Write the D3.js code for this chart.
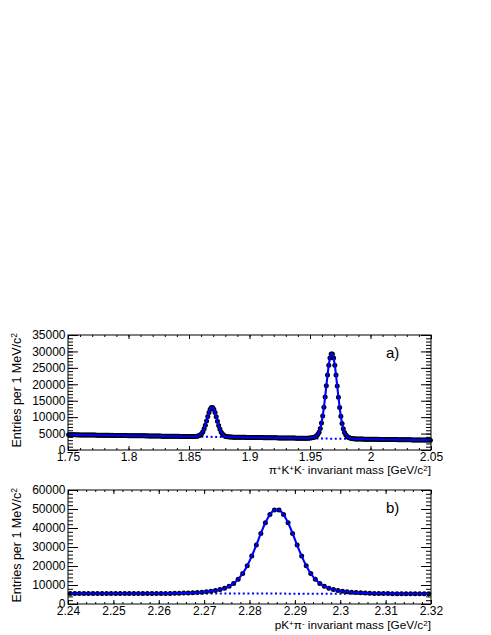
<!DOCTYPE html>
<html>
<head>
<meta charset="utf-8">
<script src="https://cdn.jsdelivr.net/npm/d3@7"></script>
<style>
  body { margin: 0; background: #fff; }
  svg { display: block; font-family: "Liberation Sans", Arial, sans-serif; }
</style>
</head>
<body>
<svg id="chart" width="491" height="635"></svg>
<script>
///////////////////////////////////////////////////////////
// DATA
///////////////////////////////////////////////////////////

// panel a) : pi+ K+ K- , 1 MeV bins from 1.75 to 2.05
var topStart = 1.75, topEnd = 2.05, topBin = 0.001;
var topCounts = [
  4660,4630,4650,4620,4640,4610,4630,4600,4620,4600,
  4590,4600,4580,4590,4570,4560,4570,4550,4560,4540,
  4540,4530,4540,4520,4510,4520,4500,4510,4490,4500,
  4480,4490,4470,4460,4470,4450,4460,4440,4450,4430,
  4430,4420,4420,4410,4400,4410,4390,4380,4390,4370,
  4370,4370,4360,4350,4360,4340,4340,4330,4330,4320,
  4320,4310,4310,4300,4290,4300,4280,4270,4280,4260,
  4260,4260,4250,4240,4250,4230,4230,4220,4220,4210,
  4210,4200,4190,4200,4180,4180,4170,4170,4160,4160,
  4150,4150,4140,4140,4130,4120,4130,4110,4110,4100,
  4100,4090,4090,4100,4120,4140,4190,4260,4400,4650,
  5050,5590,6430,7530,8800,10160,11420,12400,12930,12930,
  12380,11400,10120,8760,7470,6360,5510,4950,4550,4290,
  4140,4050,4000,3960,3940,3920,3900,3900,3890,3890,
  3880,3880,3870,3870,3860,3850,3850,3840,3840,3830,
  3820,3820,3810,3810,3800,3790,3790,3780,3780,3770,
  3770,3760,3760,3750,3740,3740,3730,3730,3720,3720,
  3710,3710,3700,3690,3690,3680,3680,3670,3670,3660,
  3660,3650,3640,3640,3630,3630,3620,3620,3610,3600,
  3600,3600,3590,3580,3580,3570,3570,3580,3600,3620,
  3660,3700,3780,3880,4050,4320,4760,5420,6570,8200,
  10350,13040,16150,19530,22860,25800,28020,29200,29200,28000,
  25780,22820,19480,16090,12970,10270,8100,6470,5300,4640,
  4180,3900,3720,3610,3520,3460,3420,3380,3360,3340,
  3330,3320,3310,3310,3300,3300,3290,3290,3280,3280,
  3270,3270,3260,3250,3250,3240,3240,3230,3230,3220,
  3220,3210,3210,3200,3190,3190,3180,3180,3170,3170,
  3160,3160,3150,3150,3140,3130,3130,3120,3120,3110,
  3110,3100,3090,3090,3080,3080,3070,3070,3060,3050,
  3050,3050,3040,3030,3030,3020,3020,3010,3010,3000
];
var topBgMass = [1.75, 2.05];
var topBgCount = [4650, 3000];
var topXTicks = [1.75, 1.8, 1.85, 1.9, 1.95, 2, 2.05];
var topYTicks = [0, 5000, 10000, 15000, 20000, 25000, 30000, 35000];

// panel b) : p K+ pi- , 1 MeV bins from 2.24 to 2.32
var botStart = 2.24, botEnd = 2.32, botBin = 0.001;
var botCounts = [
  5550,5550,5540,5540,5540,5540,5540,5540,5540,5530,
  5530,5530,5530,5530,5530,5520,5520,5530,5540,5540,
  5550,5570,5590,5630,5670,5740,5820,5940,6080,6250,
  6470,6760,7140,7640,8340,9350,10850,13050,16080,20160,
  25220,31030,37120,42740,47080,49450,49450,47070,42730,37110,
  31010,25200,20130,16050,13020,10820,9310,8290,7590,7090,
  6710,6410,6180,6010,5870,5750,5660,5590,5540,5500,
  5480,5450,5440,5430,5420,5410,5410,5400,5400,5400
];
var botBgMass = [2.24, 2.32];
var botBgCount = [5550, 5400];
var botXTicks = [2.24, 2.25, 2.26, 2.27, 2.28, 2.29, 2.3, 2.31, 2.32];
var botYTicks = [0, 10000, 20000, 30000, 40000, 50000, 60000];

///////////////////////////////////////////////////////////
// DRAWING
///////////////////////////////////////////////////////////
var svg = d3.select("#chart");
svg.append("rect").attr("width", 491).attr("height", 635).attr("fill", "#fff");

// ROOT style labels: 1.80 -> 1.8, 2.00 -> 2
function fmt(d) { return String(+d.toFixed(4)); }

function tickAxis(g, gen, scale, values, size, pad) {
  var ax = gen(scale).tickValues(values).tickSizeInner(-size).tickSizeOuter(0);
  if (pad !== undefined) ax.tickFormat(fmt).tickPadding(pad);
  else ax.tickFormat("");
  g.call(ax);
  g.attr("font-size", 12).attr("font-family", null);
  g.select(".domain").remove();
  g.selectAll("line").attr("stroke", "#000").attr("stroke-width", 1);
  g.selectAll("text").attr("fill", "#000");
}

// title with superscripts, parts = [[text, isSup], ...]
function richText(sel, parts) {
  parts.forEach(function(p) {
    var t = sel.append("tspan").text(p[0]);
    if (p[1]) t.attr("font-size", "0.68em").attr("baseline-shift", "42%");
  });
}

function drawPanel(p) {
  var x = d3.scaleLinear().domain([p.start, p.end]).range([p.left, p.right]);
  var y = d3.scaleLinear().domain([0, p.ymax]).range([p.bottom, p.top]);

  var pts = p.counts.map(function(c, i) {
    return { m: p.start + (i + 0.5) * p.bin, c: c };
  });

  // minor tick positions
  var xMinor = d3.range(0, Math.round((p.end - p.start) / p.xMinorStep) + 1).map(function(i) {
    return p.start + i * p.xMinorStep;
  });
  var yMinor = d3.range(0, p.ymax / p.yMinorStep + 1).map(function(i) { return i * p.yMinorStep; });

  var g = svg.append("g");

  // axes: minor first, major with labels on left/bottom
  tickAxis(g.append("g").attr("transform", "translate(0," + p.bottom + ")"), d3.axisBottom, x, xMinor, 2);
  tickAxis(g.append("g").attr("transform", "translate(0," + p.bottom + ")"), d3.axisBottom, x, p.xTicks, 4, 2.5);
  tickAxis(g.append("g").attr("transform", "translate(0," + p.top + ")"), d3.axisTop, x, xMinor, 2);
  tickAxis(g.append("g").attr("transform", "translate(0," + p.top + ")"), d3.axisTop, x, p.xTicks, 4);
  tickAxis(g.append("g").attr("transform", "translate(" + p.left + ",0)"), d3.axisLeft, y, yMinor, 5);
  tickAxis(g.append("g").attr("transform", "translate(" + p.left + ",0)"), d3.axisLeft, y, p.yTicks, 10, 2.5);
  tickAxis(g.append("g").attr("transform", "translate(" + p.right + ",0)"), d3.axisRight, y, yMinor, 5);
  tickAxis(g.append("g").attr("transform", "translate(" + p.right + ",0)"), d3.axisRight, y, p.yTicks, 10);

  // background component (dotted)
  g.append("path")
    .datum(p.bgMass.map(function(m, i) { return [m, p.bgCount[i]]; }))
    .attr("fill", "none")
    .attr("stroke", "#0000ff")
    .attr("stroke-width", 2)
    .attr("stroke-dasharray", "2,2.6")
    .attr("d", d3.line().x(function(d) { return x(d[0]); }).y(function(d) { return y(d[1]); }));

  // data points
  g.selectAll("circle.pt")
    .data(pts)
    .enter().append("circle")
    .attr("class", "pt")
    .attr("cx", function(d) { return x(d.m); })
    .attr("cy", function(d) { return y(d.c); })
    .attr("r", p.r)
    .attr("fill", "#000");

  // total fit
  g.append("path")
    .datum(pts)
    .attr("fill", "none")
    .attr("stroke", "#0000ff")
    .attr("stroke-width", 2.1)
    .attr("d", d3.line().curve(d3.curveCatmullRom)
      .x(function(d) { return x(d.m); })
      .y(function(d) { return y(d.c); }));

  // frame
  g.append("rect")
    .attr("x", p.left).attr("y", p.top)
    .attr("width", p.right - p.left).attr("height", p.bottom - p.top)
    .attr("fill", "none").attr("stroke", "#000").attr("stroke-width", 1);

  // titles
  var yt = g.append("text")
    .attr("transform", "translate(20.5," + (p.top - 2) + ") rotate(-90)")
    .attr("text-anchor", "end")
    .attr("font-size", 12.5);
  richText(yt, [["Entries per 1 MeV/c"], ["2", true]]);

  var xt = g.append("text")
    .attr("x", p.right)
    .attr("y", p.xTitleY)
    .attr("text-anchor", "end")
    .attr("font-size", 11.8);
  richText(xt, p.xTitle);

  g.append("text")
    .attr("x", 386).attr("y", p.top + 23)
    .attr("font-size", 15)
    .text(p.tag);
}

drawPanel({
  start: topStart, end: topEnd, bin: topBin, counts: topCounts,
  bgMass: topBgMass, bgCount: topBgCount,
  xTicks: topXTicks, yTicks: topYTicks, xMinorStep: 0.01, yMinorStep: 1000, ymax: 35000,
  left: 68, right: 431, top: 335, bottom: 450, r: 2.5,
  xTitleY: 474, tag: "a)",
  xTitle: [["\u03c0"], ["+", true], ["K"], ["+", true], ["K"], ["-", true], [" invariant mass [GeV/c"], ["2", true], ["]"]]
});

drawPanel({
  start: botStart, end: botEnd, bin: botBin, counts: botCounts,
  bgMass: botBgMass, bgCount: botBgCount,
  xTicks: botXTicks, yTicks: botYTicks, xMinorStep: 0.002, yMinorStep: 2000, ymax: 60000,
  left: 68, right: 431, top: 490, bottom: 604, r: 2.5,
  xTitleY: 629, tag: "b)",
  xTitle: [["pK"], ["+", true], ["\u03c0"], ["-", true], [" invariant mass [GeV/c"], ["2", true], ["]"]]
});
</script>
</body>
</html>
